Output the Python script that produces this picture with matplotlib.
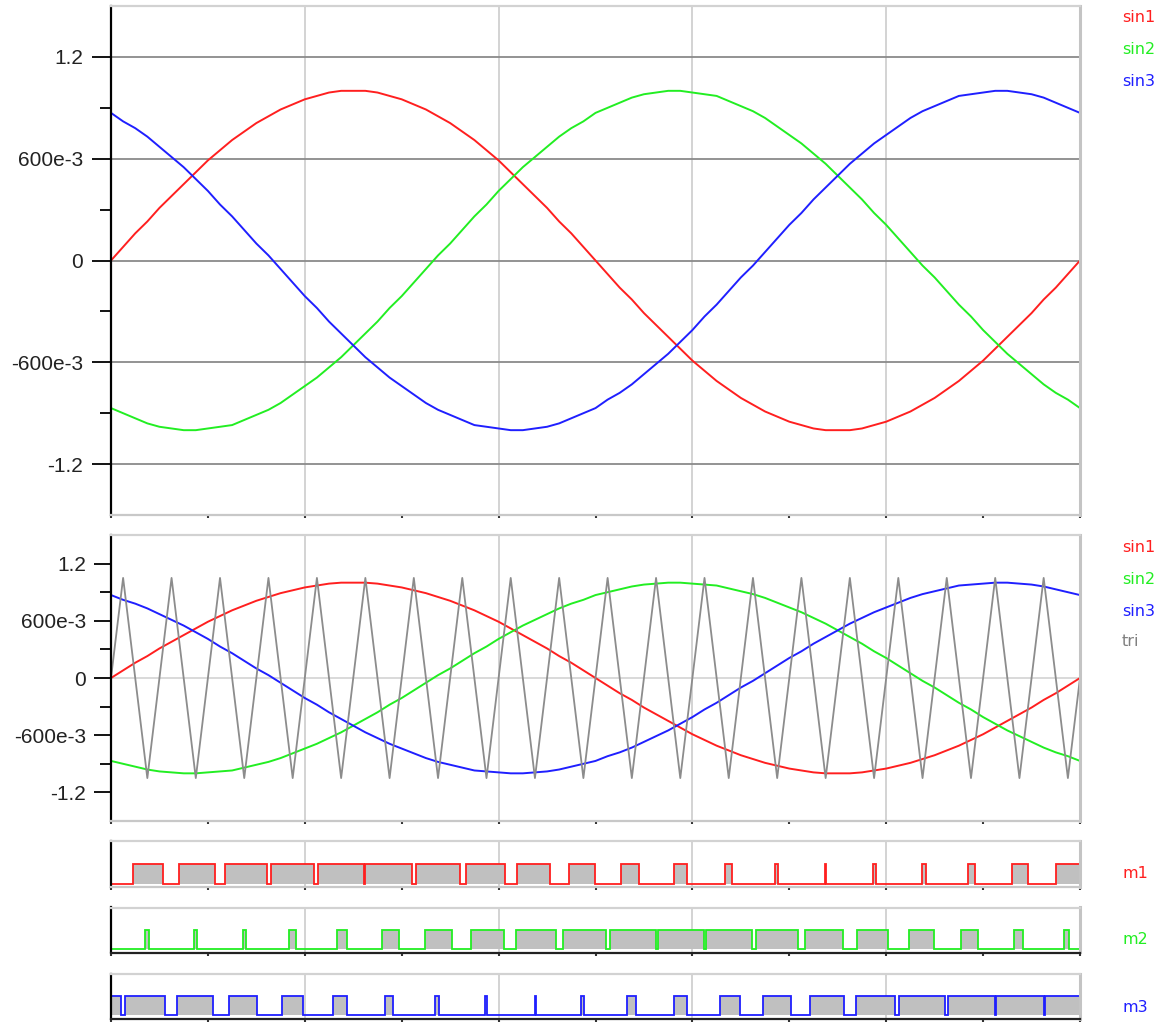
import numpy as np
import matplotlib
matplotlib.use("Agg")
import matplotlib.pyplot as plt
from matplotlib.ticker import MultipleLocator, NullFormatter, FixedLocator

# ---------------- data (time in ms, 0..20) ----------------
t_sin = np.linspace(0, 20, 81)
sin1 = [0.00, 0.08, 0.16, 0.23, 0.31, 0.38, 0.45, 0.52, 0.59, 0.65, 0.71, 0.76, 0.81, 0.85,
        0.89, 0.92, 0.95, 0.97, 0.99, 1.00, 1.00, 1.00, 0.99, 0.97, 0.95, 0.92, 0.89, 0.85,
        0.81, 0.76, 0.71, 0.65, 0.59, 0.52, 0.45, 0.38, 0.31, 0.23, 0.16, 0.08, 0.00,
        -0.08, -0.16, -0.23, -0.31, -0.38, -0.45, -0.52, -0.59, -0.65, -0.71, -0.76, -0.81,
        -0.85, -0.89, -0.92, -0.95, -0.97, -0.99, -1.00, -1.00, -1.00, -0.99, -0.97, -0.95,
        -0.92, -0.89, -0.85, -0.81, -0.76, -0.71, -0.65, -0.59, -0.52, -0.45, -0.38, -0.31,
        -0.23, -0.16, -0.08, 0.00]
sin2 = [-0.87, -0.90, -0.93, -0.96, -0.98, -0.99, -1.00, -1.00, -0.99, -0.98, -0.97, -0.94,
        -0.91, -0.88, -0.84, -0.79, -0.74, -0.69, -0.63, -0.57, -0.50, -0.43, -0.36, -0.28,
        -0.21, -0.13, -0.05, 0.03, 0.10, 0.18, 0.26, 0.33, 0.41, 0.48, 0.55, 0.61, 0.67,
        0.73, 0.78, 0.82, 0.87, 0.90, 0.93, 0.96, 0.98, 0.99, 1.00, 1.00, 0.99, 0.98, 0.97,
        0.94, 0.91, 0.88, 0.84, 0.79, 0.74, 0.69, 0.63, 0.57, 0.50, 0.43, 0.36, 0.28, 0.21,
        0.13, 0.05, -0.03, -0.10, -0.18, -0.26, -0.33, -0.41, -0.48, -0.55, -0.61, -0.67,
        -0.73, -0.78, -0.82, -0.87]
sin3 = [0.87, 0.82, 0.78, 0.73, 0.67, 0.61, 0.55, 0.48, 0.41, 0.33, 0.26, 0.18, 0.10, 0.03,
        -0.05, -0.13, -0.21, -0.28, -0.36, -0.43, -0.50, -0.57, -0.63, -0.69, -0.74, -0.79,
        -0.84, -0.88, -0.91, -0.94, -0.97, -0.98, -0.99, -1.00, -1.00, -0.99, -0.98, -0.96,
        -0.93, -0.90, -0.87, -0.82, -0.78, -0.73, -0.67, -0.61, -0.55, -0.48, -0.41, -0.33,
        -0.26, -0.18, -0.10, -0.03, 0.05, 0.13, 0.21, 0.28, 0.36, 0.43, 0.50, 0.57, 0.63,
        0.69, 0.74, 0.79, 0.84, 0.88, 0.91, 0.94, 0.97, 0.98, 0.99, 1.00, 1.00, 0.99, 0.98,
        0.96, 0.93, 0.90, 0.87]

tri_t = [0.00, 0.25, 0.75, 1.25, 1.75, 2.25, 2.75, 3.25, 3.75, 4.25, 4.75, 5.25, 5.75, 6.25,
         6.75, 7.25, 7.75, 8.25, 8.75, 9.25, 9.75, 10.25, 10.75, 11.25, 11.75, 12.25, 12.75,
         13.25, 13.75, 14.25, 14.75, 15.25, 15.75, 16.25, 16.75, 17.25, 17.75, 18.25, 18.75,
         19.25, 19.75, 20.00]
tri_v = [0.00, 1.05, -1.05, 1.05, -1.05, 1.05, -1.05, 1.05, -1.05, 1.05, -1.05, 1.05, -1.05,
         1.05, -1.05, 1.05, -1.05, 1.05, -1.05, 1.05, -1.05, 1.05, -1.05, 1.05, -1.05, 1.05,
         -1.05, 1.05, -1.05, 1.05, -1.05, 1.05, -1.05, 1.05, -1.05, 1.05, -1.05, 1.05, -1.05,
         1.05, -1.05, 0.00]

m1_on = [0.46, 1.40, 2.35, 3.30, 4.27, 5.25, 6.29, 7.32, 8.38, 9.46, 10.53, 11.61, 12.68,
         13.70, 14.73, 15.72, 16.73, 17.68, 18.59, 19.50]
m1_off = [1.08, 2.15, 3.23, 4.20, 5.23, 6.22, 7.20, 8.13, 9.06, 9.99, 10.90, 11.89, 12.81,
          13.77, 14.75, 15.79, 16.82, 17.83, 18.92, 20.00]
m2_on = [0.70, 1.71, 2.72, 3.67, 4.66, 5.59, 6.48, 7.43, 8.35, 9.33, 10.30, 11.29, 12.28,
         13.31, 14.32, 15.39, 16.47, 17.54, 18.63, 19.66]
m2_off = [0.79, 1.78, 2.78, 3.81, 4.88, 5.95, 7.03, 8.11, 9.18, 10.21, 11.24, 12.23, 13.22,
          14.17, 15.11, 16.03, 16.99, 17.89, 18.83, 19.78]
m3_on = [0.00, 0.29, 1.36, 2.44, 3.52, 4.59, 5.66, 6.69, 7.71, 8.76, 9.70, 10.66, 11.61,
         12.56, 13.46, 14.42, 15.37, 16.27, 17.28, 18.26, 19.27]
m3_off = [0.20, 1.11, 2.11, 3.02, 3.97, 4.88, 5.82, 6.78, 7.77, 8.78, 9.76, 10.83, 11.89,
          12.98, 14.04, 15.12, 16.19, 17.22, 18.24, 19.25, 20.00]

yticks = [-1.2, -0.6, 0, 0.6, 1.2]
yticklabels = ["-1.2", "-600e-3", "0", "600e-3", "1.2"]
yminor = [-0.9, -0.3, 0.3, 0.9]

RED, GREEN, BLUE, GRAY = "#ff1f1f", "#22ee22", "#1f1fff", "#8c8c8c"
T0, T1 = 0, 20

# ---------------- figure ----------------
W, H = 1163, 1023
fig = plt.figure(figsize=(W / 100, H / 100), dpi=100)
plt.rcParams["font.family"] = ["Liberation Sans", "DejaVu Sans"]


def box(top, bottom, left=111, right=1080):
    return [left / W, 1 - bottom / H, (right - left) / W, (bottom - top) / H]


def style_frame(ax, bottom_color):
    ax.spines["left"].set_color("black")
    ax.spines["left"].set_linewidth(1.6)
    ax.spines["top"].set_color("#d2d2d2")
    ax.spines["top"].set_linewidth(1.6)
    ax.spines["right"].set_color("#c4c4c4")
    ax.spines["right"].set_linewidth(2.2)
    ax.spines["bottom"].set_color(bottom_color)
    ax.spines["bottom"].set_linewidth(1.6)
    ax.set_xlim(T0, T1)
    ax.xaxis.set_major_locator(MultipleLocator(4))
    ax.xaxis.set_minor_locator(MultipleLocator(2))
    ax.xaxis.set_major_formatter(NullFormatter())
    ax.tick_params(axis="x", which="both", length=2, width=1.5, color="#333333", direction="out")
    for x in [4, 8, 12, 16]:
        ax.axvline(x, color="#c8c8c8", lw=1.1, zorder=0)


def style_y(ax, major_len):
    ax.set_ylim(-1.5, 1.5)
    ax.set_yticks(yticks)
    ax.set_yticklabels(yticklabels)
    ax.yaxis.set_minor_locator(FixedLocator(yminor))
    ax.tick_params(axis="y", which="major", length=major_len, width=1.3, pad=6,
                   labelsize=15, labelcolor="#222222")
    ax.tick_params(axis="y", which="minor", length=8, width=1.3)


# ---- panel 1 ----
ax1 = fig.add_axes(box(6, 515))
style_frame(ax1, "#c8c8c8")
style_y(ax1, 14)
for y in yticks:
    ax1.axhline(y, color="#8a8a8a", lw=1.3, zorder=0.5)
ax1.plot(t_sin, sin1, color=RED, lw=1.4)
ax1.plot(t_sin, sin2, color=GREEN, lw=1.4)
ax1.plot(t_sin, sin3, color=BLUE, lw=1.4)

# ---- panel 2 ----
ax2 = fig.add_axes(box(535, 821))
style_frame(ax2, "#c8c8c8")
style_y(ax2, 12)
ax2.axhline(0, color="#d0d0d0", lw=1.1, zorder=0)
ax2.plot(t_sin, sin1, color=RED, lw=1.4)
ax2.plot(t_sin, sin2, color=GREEN, lw=1.4)
ax2.plot(t_sin, sin3, color=BLUE, lw=1.4)
ax2.plot(tri_t, tri_v, color=GRAY, lw=1.3)


# ---- PWM panels ----
def step_path(ons, offs):
    xs, ys = [T0], [0]
    for a, b in zip(ons, offs):
        if b >= T1:
            xs += [a, a, T1]
            ys += [0, 1, 1]
            return xs, ys
        xs += [a, a, b, b]
        ys += [0, 1, 1, 0]
    xs.append(T1)
    ys.append(0)
    return xs, ys


pwm = [(m1_on, m1_off, RED, 841, 887, "#c8c8c8"),
       (m2_on, m2_off, GREEN, 907.5, 952.5, "#222222"),
       (m3_on, m3_off, BLUE, 973.5, 1018.5, "#222222")]
for ons, offs, col, top, bot, bcol in pwm:
    ax = fig.add_axes(box(top, bot))
    style_frame(ax, bcol)
    ax.set_ylim(-0.17, 2.17)
    ax.set_yticks([])
    xs, ys = step_path(ons, offs)
    ax.fill_between(xs, 0, ys, color="#c0c0c0", lw=0, zorder=1)
    ax.plot(xs, ys, color=col, lw=1.3, zorder=2, solid_joinstyle="miter")

# ---- labels on the right ----
lab_font = dict(family=["DejaVu Sans"], fontsize=11.5, va="center", ha="left")
for txt, col, y in [("sin1", RED, 18), ("sin2", GREEN, 50), ("sin3", BLUE, 81),
                    ("sin1", RED, 547), ("sin2", GREEN, 579), ("sin3", BLUE, 611),
                    ("tri", "#808080", 642),
                    ("m1", RED, 874), ("m2", GREEN, 940), ("m3", BLUE, 1007)]:
    fig.text(1122 / W, 1 - y / H, txt, color=col, **lab_font)

fig.savefig("out.png", dpi=100)
